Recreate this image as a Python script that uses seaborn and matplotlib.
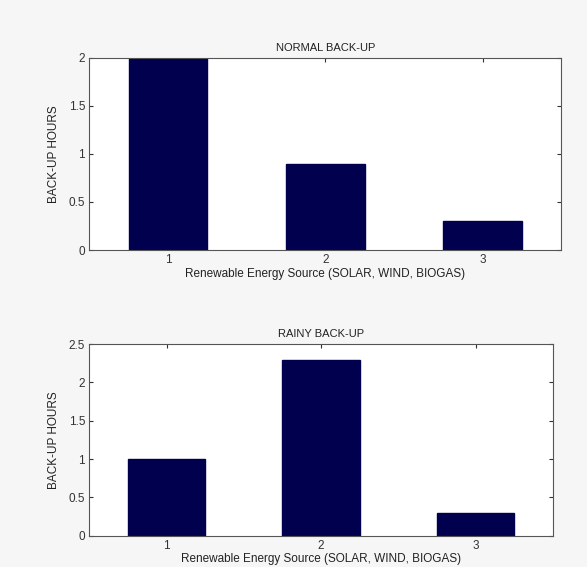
import numpy as np
import pandas as pd
import seaborn as sns
import matplotlib.pyplot as plt

sources = [1, 2, 3]
normal_hours = [2.0, 0.9, 0.3]
rainy_hours = [1.0, 2.3, 0.3]

sns.set_style("white")
plt.rcParams['font.family'] = ['Liberation Sans', 'DejaVu Sans']

bar_color = '#00004f'

fig = plt.figure(figsize=(5.87, 5.67), dpi=100, facecolor='#f6f6f6')
ax1 = fig.add_axes([0.152, 0.559, 0.804, 0.339])
ax2 = fig.add_axes([0.152, 0.055, 0.790, 0.338])

df1 = pd.DataFrame({'src': sources, 'hrs': normal_hours})
df2 = pd.DataFrame({'src': sources, 'hrs': rainy_hours})

panels = [
    (ax1, df1, 'NORMAL BACK-UP', 2.0, np.arange(0, 2.01, 0.5), ['0', '0.5', '1', '1.5', '2']),
    (ax2, df2, 'RAINY BACK-UP', 2.5, np.arange(0, 2.51, 0.5), ['0', '0.5', '1', '1.5', '2', '2.5']),
]

for ax, df, title, ymax, yt, ylabs in panels:
    sns.barplot(data=df, x='src', y='hrs', native_scale=True, width=0.5,
                color=bar_color, saturation=1, edgecolor=bar_color, ax=ax)
    ax.set_xlim(0.5, 3.5)
    ax.set_ylim(0, ymax)
    ax.set_xticks(sources)
    ax.set_xticklabels([str(s) for s in sources])
    ax.set_yticks(yt)
    ax.set_yticklabels(ylabs)
    ax.tick_params(direction='in', top=True, right=True, bottom=True, left=True,
                   length=3, width=0.8, labelsize=8.5, pad=3, colors='#333333')
    for sp in ax.spines.values():
        sp.set_visible(True)
        sp.set_color('#555555')
        sp.set_linewidth(0.8)
    ax.set_title(title, fontsize=8, pad=5, color='#222222')
    ax.set_xlabel('Renewable Energy Source (SOLAR, WIND, BIOGAS)', fontsize=8.5,
                  labelpad=1, color='#222222')
    ax.set_ylabel('BACK-UP HOURS', fontsize=8.5, labelpad=6, color='#222222')

fig.savefig('out.png', dpi=100, facecolor=fig.get_facecolor())
